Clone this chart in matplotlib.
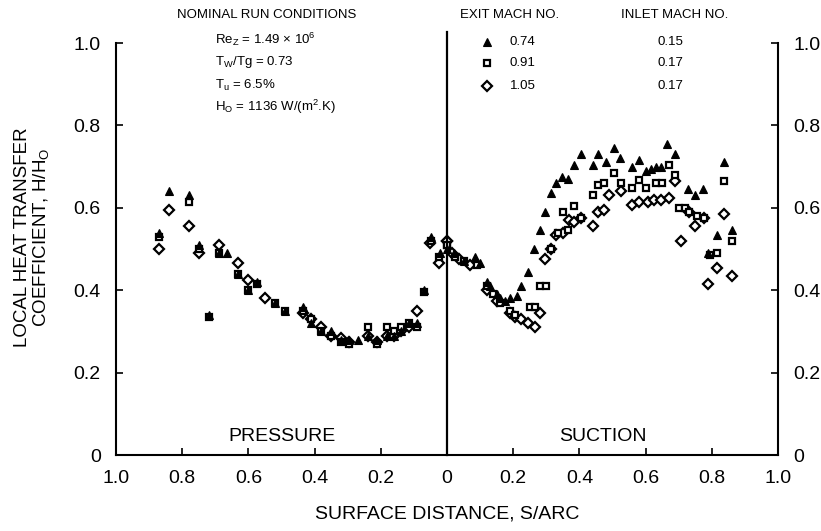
import matplotlib
matplotlib.use("Agg")
import matplotlib.pyplot as plt

plt.rcParams["font.family"] = ["Liberation Sans", "DejaVu Sans"]
plt.rcParams["mathtext.fontset"] = "custom"
plt.rcParams["mathtext.rm"] = "Liberation Sans"
plt.rcParams["mathtext.it"] = "Liberation Sans"

# ---- data (pressure side given as positive S/ARC, drawn to the left) ----
p_tri_s = [0.87, 0.84, 0.78, 0.75, 0.72, 0.69, 0.665, 0.63, 0.60, 0.575, 0.52, 0.49, 0.435, 0.41,
           0.38, 0.35, 0.32, 0.295, 0.27, 0.24, 0.21, 0.18, 0.16, 0.14, 0.115, 0.09, 0.07, 0.048, 0.02]
p_tri_h = [0.54, 0.64, 0.63, 0.51, 0.34, 0.49, 0.49, 0.44, 0.40, 0.42, 0.37, 0.35, 0.36, 0.32,
           0.30, 0.30, 0.28, 0.28, 0.28, 0.29, 0.28, 0.29, 0.29, 0.30, 0.32, 0.32, 0.40, 0.53, 0.49]
p_sq_s = [0.87, 0.78, 0.75, 0.72, 0.69, 0.63, 0.60, 0.575, 0.52, 0.49, 0.435, 0.41, 0.38, 0.35,
          0.32, 0.295, 0.24, 0.21, 0.18, 0.16, 0.14, 0.115, 0.09, 0.07, 0.048, 0.025, 0.0]
p_sq_h = [0.53, 0.615, 0.50, 0.335, 0.49, 0.44, 0.40, 0.415, 0.37, 0.35, 0.35, 0.33, 0.30, 0.29,
          0.275, 0.27, 0.31, 0.27, 0.31, 0.30, 0.31, 0.32, 0.31, 0.395, 0.52, 0.48, 0.51]
p_dm_s = [0.87, 0.84, 0.78, 0.75, 0.69, 0.63, 0.60, 0.55, 0.435, 0.41, 0.38, 0.35, 0.32, 0.295,
          0.24, 0.21, 0.18, 0.16, 0.14, 0.115, 0.09, 0.05, 0.025, 0.0]
p_dm_h = [0.50, 0.595, 0.555, 0.49, 0.51, 0.465, 0.425, 0.38, 0.345, 0.33, 0.31, 0.29, 0.285, 0.275,
          0.29, 0.275, 0.29, 0.29, 0.30, 0.31, 0.35, 0.515, 0.465, 0.52]

s_tri_s = [0.0, 0.02, 0.05, 0.085, 0.10, 0.12, 0.13, 0.15, 0.16, 0.175, 0.19, 0.21, 0.225, 0.245,
           0.263, 0.28, 0.297, 0.315, 0.33, 0.347, 0.365, 0.385, 0.405, 0.44, 0.455, 0.48, 0.505,
           0.523, 0.558, 0.58, 0.60, 0.615, 0.63, 0.646, 0.666, 0.688, 0.728, 0.75, 0.774, 0.79,
           0.816, 0.838, 0.861]
s_tri_h = [0.50, 0.49, 0.47, 0.48, 0.465, 0.42, 0.41, 0.39, 0.38, 0.375, 0.38, 0.385, 0.41, 0.445,
           0.50, 0.545, 0.59, 0.635, 0.66, 0.675, 0.67, 0.705, 0.73, 0.705, 0.73, 0.71, 0.745,
           0.72, 0.70, 0.715, 0.69, 0.695, 0.70, 0.70, 0.755, 0.73, 0.645, 0.63, 0.645, 0.49,
           0.535, 0.71, 0.545]
s_sq_s = [0.0, 0.025, 0.05, 0.09, 0.12, 0.14, 0.16, 0.19, 0.205, 0.25, 0.265, 0.28, 0.30, 0.315,
          0.335, 0.35, 0.365, 0.385, 0.405, 0.44, 0.455, 0.475, 0.505, 0.525, 0.56, 0.58, 0.60,
          0.63, 0.65, 0.67, 0.69, 0.70, 0.72, 0.73, 0.756, 0.776, 0.796, 0.816, 0.838, 0.861]
s_sq_h = [0.51, 0.48, 0.47, 0.46, 0.41, 0.39, 0.37, 0.35, 0.34, 0.36, 0.36, 0.41, 0.41, 0.50,
          0.54, 0.59, 0.545, 0.605, 0.575, 0.63, 0.655, 0.66, 0.685, 0.66, 0.647, 0.667, 0.647,
          0.66, 0.66, 0.705, 0.68, 0.60, 0.60, 0.59, 0.58, 0.575, 0.485, 0.49, 0.665, 0.52]
s_dm_s = [0.0, 0.015, 0.035, 0.07, 0.12, 0.15, 0.19, 0.205, 0.225, 0.245, 0.265, 0.28, 0.295,
          0.315, 0.33, 0.35, 0.37, 0.385, 0.405, 0.44, 0.455, 0.475, 0.49, 0.525, 0.56, 0.58,
          0.606, 0.625, 0.646, 0.67, 0.69, 0.706, 0.73, 0.75, 0.776, 0.79, 0.816, 0.838, 0.861]
s_dm_h = [0.52, 0.49, 0.475, 0.46, 0.40, 0.375, 0.345, 0.335, 0.33, 0.32, 0.31, 0.345, 0.475,
          0.50, 0.535, 0.54, 0.57, 0.565, 0.575, 0.555, 0.59, 0.595, 0.63, 0.64, 0.607, 0.615,
          0.615, 0.62, 0.62, 0.625, 0.665, 0.52, 0.59, 0.555, 0.575, 0.415, 0.455, 0.585, 0.435]

exit_mach = ["0.74", "0.91", "1.05"]
inlet_mach = ["0.15", "0.17", "0.17"]
xtick_vals = [-1.0, -0.8, -0.6, -0.4, -0.2, 0.0, 0.2, 0.4, 0.6, 0.8, 1.0]
xtick_labels = ["1.0", "0.8", "0.6", "0.4", "0.2", "0", "0.2", "0.4", "0.6", "0.8", "1.0"]
ytick_vals = [0, 0.2, 0.4, 0.6, 0.8, 1.0]
ytick_labels = ["0", "0.2", "0.4", "0.6", "0.8", "1.0"]

TRI = dict(marker="^", ms=5.5, mfc="black", mec="black", mew=0.8, ls="none")
SQ = dict(marker="s", ms=5, mfc="white", mec="black", mew=1.6, ls="none")
DM = dict(marker="D", ms=4.6, mfc="white", mec="black", mew=1.6, ls="none")

fig = plt.figure(figsize=(8.21, 5.31), dpi=100)
ax = fig.add_axes([0.1413, 0.1431, 0.8063, 0.7759])

ax.plot([-s for s in p_dm_s], p_dm_h, **DM)
ax.plot([-s for s in p_sq_s], p_sq_h, **SQ)
ax.plot([-s for s in p_tri_s], p_tri_h, **TRI)
ax.plot(s_dm_s, s_dm_h, **DM)
ax.plot(s_sq_s, s_sq_h, **SQ)
ax.plot(s_tri_s, s_tri_h, **TRI)

ax.set_xlim(-1.0, 1.0)
ax.set_ylim(0, 1.0)
ax.axvline(0, ymin=0, ymax=1.027, color="black", lw=1.6, clip_on=False)

ax.spines["top"].set_visible(False)
for sp in ("left", "right", "bottom"):
    ax.spines[sp].set_linewidth(1.5)

ax.set_xticks(xtick_vals)
ax.set_xticklabels(xtick_labels)
ax.set_yticks(ytick_vals)
ax.set_yticklabels(ytick_labels)
ax.yaxis.set_ticks_position("both")
ax.tick_params(axis="y", direction="in", length=5, width=1.2, labelsize=14, pad=11,
               labelleft=True, labelright=True)
ax.tick_params(axis="x", direction="in", length=5, width=1.2, labelsize=14, pad=11)

ax.set_xlabel("SURFACE DISTANCE, S/ARC", fontsize=14, labelpad=13)
fig.text(0.040, 0.554, "LOCAL HEAT TRANSFER\nCOEFFICIENT, H/H$_O$", rotation=90,
         ha="center", va="center", fontsize=13.5, multialignment="center", linespacing=1.0)

ax.text(-0.50, 0.045, "PRESSURE", fontsize=14, ha="center", va="center")
ax.text(0.47, 0.045, "SUCTION", fontsize=14, ha="center", va="center")

# run conditions block
hdr = dict(fontsize=9.5, ha="left", va="center", clip_on=False)
ax.text(-0.815, 1.068, "NOMINAL RUN CONDITIONS", **hdr)
ax.text(-0.70, 1.010, "Re$_Z$ = 1.49 × 10$^6$", **hdr)
ax.text(-0.70, 0.954, "T$_W$/Tg = 0.73", **hdr)
ax.text(-0.70, 0.898, "T$_u$ = 6.5%", **hdr)
ax.text(-0.70, 0.845, "H$_O$ = 1136 W/(m$^2$.K)", **hdr)

# marker key
ax.text(0.039, 1.068, "EXIT MACH NO.", **hdr)
ax.text(0.526, 1.068, "INLET MACH NO.", **hdr)
rows_y = [1.003, 0.951, 0.896]
for sty, em, im, yy in zip((TRI, SQ, DM), exit_mach, inlet_mach, rows_y):
    ax.plot([0.12], [yy], clip_on=False, **sty)
    ax.text(0.189, yy, em, **hdr)
    ax.text(0.637, yy, im, **hdr)

fig.savefig("out.png", dpi=100)
